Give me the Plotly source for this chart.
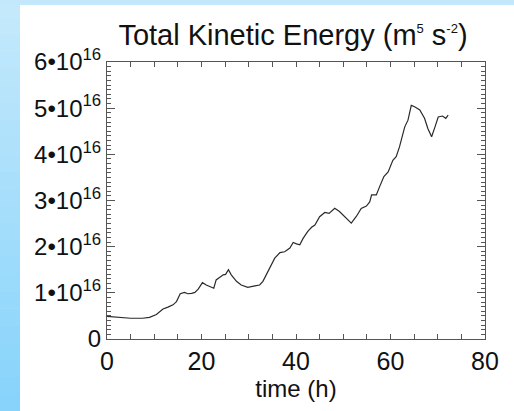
import plotly.graph_objects as go

# time (h)
time_h = [0, 1, 3, 5, 7.5, 9, 10.45, 11.85, 12.9, 13.97, 14.7, 15.5, 16.4, 17.1, 17.9, 18.6,
          19.3, 20.2, 21.0, 21.9, 22.6, 23.1, 23.9, 24.6, 25.1, 25.7, 26.3, 27.4, 28.4, 29.8,
          31.3, 32.3, 33.0, 33.7, 34.4, 35.5, 36.6, 37.6, 38.7, 39.4, 40.1, 40.8, 41.5, 42.5,
          43.3, 44.0, 45.0, 46.1, 47.0, 48.2, 49.2, 50.5, 51.7, 52.8, 53.8, 54.9, 55.6, 56.0,
          57.0, 57.7, 58.6, 59.5, 60.5, 61.2, 61.9, 63.0, 63.7, 64.4, 65.1, 66.2, 67.2, 67.9,
          68.7, 69.4, 70.1, 71.0, 71.7, 72.2]
# total kinetic energy in units of 1e16 m^5 s^-2
energy_e16 = [0.49, 0.48, 0.46, 0.45, 0.45, 0.47, 0.53, 0.65, 0.69, 0.74, 0.81, 0.98, 1.01, 0.98,
              0.99, 1.01, 1.08, 1.22, 1.17, 1.14, 1.10, 1.28, 1.35, 1.39, 1.40, 1.50, 1.39, 1.25,
              1.17, 1.12, 1.15, 1.17, 1.25, 1.39, 1.55, 1.75, 1.87, 1.89, 1.97, 2.09, 2.06, 2.04,
              2.18, 2.33, 2.42, 2.47, 2.65, 2.74, 2.72, 2.83, 2.76, 2.64, 2.51, 2.66, 2.83, 2.88,
              2.97, 3.12, 3.12, 3.30, 3.52, 3.62, 3.87, 3.95, 4.16, 4.59, 4.74, 5.06, 5.03, 4.96,
              4.78, 4.56, 4.38, 4.59, 4.81, 4.83, 4.78, 4.85]

y_tickvals = [0, 1, 2, 3, 4, 5, 6]
y_ticktext = ["0", "1•10<sup>16</sup>", "2•10<sup>16</sup>", "3•10<sup>16</sup>",
              "4•10<sup>16</sup>", "5•10<sup>16</sup>", "6•10<sup>16</sup>"]
x_tickvals = [0, 20, 40, 60, 80]

FONT = "Liberation Sans, Arial, sans-serif"

fig = go.Figure()
fig.add_trace(go.Scatter(x=time_h, y=energy_e16, mode="lines",
                         line=dict(color="#2a2a2a", width=1.2), showlegend=False))

W, H = 514, 411
L, R, T, B = 107, 29, 62, 72
pw, ph = W - L - R, H - T - B

def px2paper_x(px):
    return (px - L) / pw

def px2paper_y(py):
    return (H - B - py) / ph

shapes = []
# left gradient strip (vertical gradient, light at top, deeper at bottom)
nb = 24
top_c = (197, 233, 251)
bot_c = (134, 211, 251)
for i in range(nb):
    f = (i + 0.5) / nb
    c = tuple(int(round(top_c[k] + (bot_c[k] - top_c[k]) * f)) for k in range(3))
    y0 = H * i / nb
    y1 = H * (i + 1) / nb + 0.5
    shapes.append(dict(type="rect", xref="paper", yref="paper", layer="below",
                       x0=px2paper_x(0), x1=px2paper_x(20),
                       y0=px2paper_y(y1), y1=px2paper_y(y0),
                       fillcolor="rgb(%d,%d,%d)" % c, line=dict(width=0)))
# top strip
shapes.append(dict(type="rect", xref="paper", yref="paper", layer="below",
                   x0=px2paper_x(0), x1=px2paper_x(W),
                   y0=px2paper_y(5), y1=px2paper_y(0),
                   fillcolor="rgb(196,232,251)", line=dict(width=0)))

title_text = ("Total Kinetic Energy (m<sup><span style='font-size:13px'>5</span></sup> "
              "s<sup><span style='font-size:13px'>-2</span></sup>)")

fig.update_layout(
    width=W, height=H,
    margin=dict(l=L, r=R, t=T, b=B, autoexpand=False),
    paper_bgcolor="white", plot_bgcolor="white",
    font=dict(family=FONT, color="#111111"),
    shapes=shapes,
    title=dict(text=title_text,
               font=dict(size=29, family=FONT, color="#111111"),
               x=293 / W, xanchor="center", xref="container",
               y=1 - 35 / H, yanchor="middle", yref="container"),
    xaxis=dict(range=[0, 80], tickvals=x_tickvals, ticks="inside", ticklen=5,
               tickcolor="#555555", tickwidth=1, automargin=False,
               showline=True, linecolor="#555555", linewidth=1, mirror="ticks",
               showgrid=False, zeroline=False,
               tickfont=dict(size=25, family=FONT, color="#111111"),
               minor=dict(dtick=5, ticks="inside", ticklen=5, tickcolor="#555555", showgrid=False),
               title=dict(text="time (h)", font=dict(size=24, family=FONT, color="#111111"),
                          standoff=6)),
    yaxis=dict(range=[0, 6], tickvals=y_tickvals, ticktext=y_ticktext, ticks="inside",
               ticklen=8, tickcolor="#555555", tickwidth=1, automargin=False,
               showline=True, linecolor="#555555", linewidth=1, mirror="ticks",
               showgrid=False, zeroline=False,
               tickfont=dict(size=24, family=FONT, color="#111111"),
               minor=dict(dtick=0.1, ticks="inside", ticklen=4, tickcolor="#555555", showgrid=False)),
)

fig.write_html("out.html", config={"displayModeBar": False},
               post_script="document.body.style.margin='0px';document.body.style.padding='0px';")
